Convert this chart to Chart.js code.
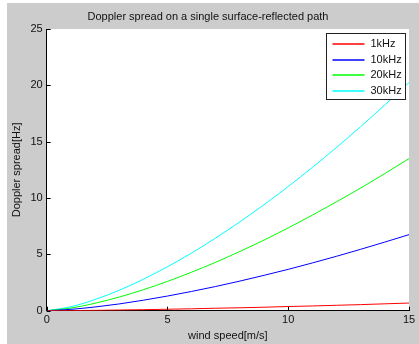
<!DOCTYPE html>
<html>
<head>
<meta charset="utf-8">
<script src="https://cdn.jsdelivr.net/npm/chart.js@4/dist/chart.umd.min.js"></script>
<style>
  body { margin: 0; background: #fff; }
  #wrap { position: absolute; left: 7px; top: 3px; width: 412px; height: 341px; background: #cccccc; }
</style>
</head>
<body>
<div id="wrap"><canvas id="myChart" width="412" height="341"></canvas></div>
<script>
// wind speed in m/s
const windSpeed = [0, 1, 2, 3, 4, 5, 6, 7, 8, 9, 10, 11, 12, 13, 14, 15];
const seriesLabels = ['1kHz', '10kHz', '20kHz', '30kHz'];
const seriesColors = ['#ff0000', '#0000ff', '#00ff00', '#00ffff'];

// doppler spread in Hz
const spread1k  = [0, 0.01, 0.03, 0.06, 0.09, 0.13, 0.17, 0.22, 0.26, 0.31, 0.37, 0.42, 0.48, 0.54, 0.61, 0.68];
const spread10k = [0, 0.12, 0.33, 0.60, 0.93, 1.30, 1.71, 2.15, 2.63, 3.14, 3.67, 4.24, 4.83, 5.45, 6.09, 6.75];
const spread20k = [0, 0.23, 0.66, 1.21, 1.86, 2.60, 3.42, 4.30, 5.26, 6.27, 7.35, 8.48, 9.66, 10.89, 12.17, 13.50];
const spread30k = [0, 0.35, 0.99, 1.81, 2.79, 3.90, 5.12, 6.46, 7.89, 9.41, 11.02, 12.72, 14.49, 16.34, 18.26, 20.25];
const allSpreads = [spread1k, spread10k, spread20k, spread30k];

const fontFamily = '"Liberation Sans", Arial, sans-serif';
const textColor = '#111';

// white plot area, inward ticks, legend box like matlab
const matlabLook = {
    id: 'matlabLook',
    beforeDraw(chart) {
        const a = chart.chartArea;
        const c = chart.ctx;
        c.save();
        c.fillStyle = '#fff';
        c.fillRect(a.left, a.top, a.right - a.left, a.bottom - a.top);
        c.restore();
    },
    afterDraw(chart) {
        const a = chart.chartArea;
        const c = chart.ctx;
        const xs = chart.scales.x, ys = chart.scales.y;
        c.save();
        c.strokeStyle = '#000';
        c.lineWidth = 1;
        c.beginPath();
        xs.ticks.forEach(t => {
            const px = Math.round(xs.getPixelForValue(t.value)) + 0.5;
            c.moveTo(px, a.bottom);
            c.lineTo(px, a.bottom - 4);
        });
        ys.ticks.forEach(t => {
            const py = Math.round(ys.getPixelForValue(t.value)) + 0.5;
            c.moveTo(a.left, py);
            c.lineTo(a.left + 4, py);
        });
        c.stroke();

        // legend
        const bw = 79, bh = 66;
        const bx = Math.round(a.right - 4 - bw) + 0.5;
        const by = Math.round(a.top + 4) + 0.5;
        c.fillStyle = '#fff';
        c.fillRect(bx, by, bw, bh);
        c.strokeStyle = '#222';
        c.strokeRect(bx, by, bw, bh);
        c.font = '11px ' + fontFamily;
        c.textBaseline = 'middle';
        c.fillStyle = textColor;
        chart.data.datasets.forEach((ds, i) => {
            const ly = Math.round(by + 10.5 + i * 15.5);
            c.strokeStyle = ds.borderColor;
            c.lineWidth = 1.5;
            c.beginPath();
            c.moveTo(bx + 6, ly);
            c.lineTo(bx + 38, ly);
            c.stroke();
            c.fillText(ds.label, bx + 44, ly);
        });
        c.restore();
    }
};

const ctx = document.getElementById('myChart').getContext('2d');

const myChart = new Chart(ctx, {
    type: 'line',
    data: {
        datasets: allSpreads.map((vals, i) => ({
            label: seriesLabels[i],
            data: vals.map((v, j) => ({ x: windSpeed[j], y: v })),
            borderColor: seriesColors[i],
            borderWidth: 1,
            pointRadius: 0,
            cubicInterpolationMode: 'monotone',
            fill: false
        }))
    },
    options: {
        responsive: false,
        animation: false,
        layout: { padding: { left: 0, right: 10, top: 0, bottom: 0 } },
        plugins: {
            legend: { display: false },
            tooltip: { enabled: false },
            title: {
                display: true,
                text: 'Doppler spread on a single surface-reflected path',
                color: textColor,
                font: { family: fontFamily, size: 11, weight: 'normal' },
                padding: { top: 7.4, bottom: 5.4 }
            }
        },
        scales: {
            x: {
                type: 'linear',
                min: 0,
                max: 15,
                grid: { display: false, drawTicks: false },
                border: { display: true, color: '#000', width: 1 },
                ticks: { stepSize: 5, color: textColor, padding: 3, font: { family: fontFamily, size: 11 } },
                title: {
                    display: true,
                    text: 'wind speed[m/s]',
                    color: textColor,
                    font: { family: fontFamily, size: 11 },
                    padding: { top: 0, bottom: 1 }
                },
                afterFit(scale) { scale.height = 33.3; }
            },
            y: {
                min: 0,
                max: 25,
                grid: { display: false, drawTicks: false },
                border: { display: true, color: '#000', width: 1 },
                ticks: { stepSize: 5, color: textColor, padding: 4, font: { family: fontFamily, size: 11 } },
                title: {
                    display: true,
                    text: 'Doppler spread[Hz]',
                    color: textColor,
                    font: { family: fontFamily, size: 11 },
                    padding: { top: 3, bottom: 0 }
                },
                afterFit(scale) { scale.width = 39.7; }
            }
        }
    },
    plugins: [matlabLook]
});
</script>
</body>
</html>
